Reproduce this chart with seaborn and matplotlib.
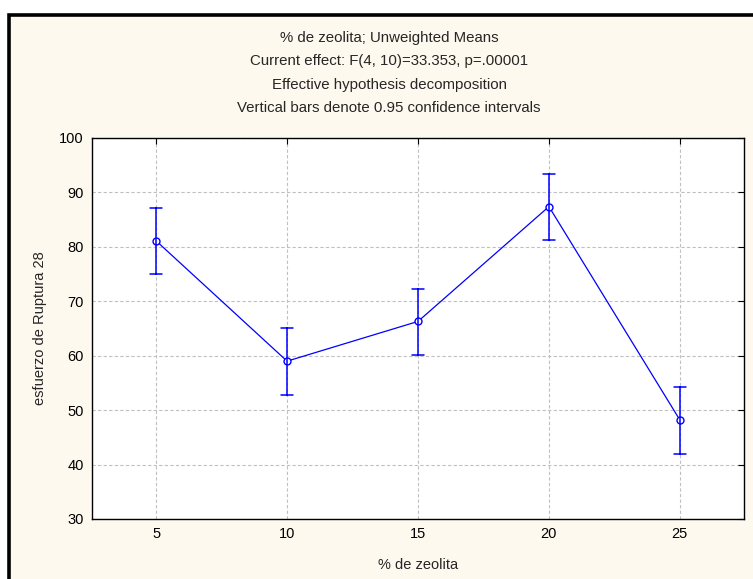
import numpy as np
import pandas as pd
import matplotlib
matplotlib.use("Agg")
import matplotlib.pyplot as plt
from matplotlib.patches import Rectangle
import seaborn as sns

# Zeolite content levels and unweighted means with 0.95 confidence limits
zeolita = ["5", "10", "15", "20", "25"]
medias = [81.1, 59.0, 66.3, 87.4, 48.2]
ci_inf = [75.0, 52.8, 60.2, 81.3, 42.0]
ci_sup = [87.1, 65.1, 72.3, 93.4, 54.3]

titulo = ["% de zeolita; Unweighted Means",
          "Current effect: F(4, 10)=33.353, p=.00001",
          "Effective hypothesis decomposition",
          "Vertical bars denote 0.95 confidence intervals"]

# Long table: lower limit, mean and upper limit per level; the median gives
# the mean and the min/max span gives the interval.
df = pd.DataFrame({
    "zeolita": np.repeat(zeolita, 3),
    "valor": np.ravel(np.column_stack([ci_inf, medias, ci_sup])),
})

sns.set_style("white")
plt.rcParams["font.family"] = ["Liberation Sans", "DejaVu Sans"]

bg = "#FEF9EE"
fig = plt.figure(figsize=(7.53, 5.79), dpi=100, facecolor="white")

# framed background panel
bgax = fig.add_axes([0, 0, 1, 1], zorder=-5)
bgax.set_xlim(0, 753)
bgax.set_ylim(579, 0)
bgax.axis("off")
bgax.add_patch(Rectangle((9.5, 14.5), 800, 700, facecolor=bg,
                         edgecolor="black", linewidth=2.6))

ax = fig.add_axes([92 / 753, 60 / 579, 652 / 753, 381 / 579])
ax.set_facecolor("white")

sns.pointplot(data=df, x="zeolita", y="valor", order=zeolita,
              estimator="median", errorbar=lambda v: (v.min(), v.max()),
              color="#0000FF", markers="o", linestyles="-", capsize=0.09,
              err_kws={"linewidth": 1.1}, linewidth=0.9,
              markersize=5, markerfacecolor="white", markeredgewidth=1.0,
              ax=ax)

ax.set_xlim(-0.49, 4.49)
ax.set_ylim(30, 100)
ax.set_yticks(np.arange(30, 101, 10))
ax.grid(True, color="#C0C0C0", linestyle=(0, (3, 2)), linewidth=0.8)
ax.set_axisbelow(True)
for s in ax.spines.values():
    s.set_color("black")
    s.set_linewidth(1.0)
    s.set_visible(True)
ax.tick_params(direction="in", length=4, width=0.8, top=True, right=True,
               labelsize=10.5, colors="black", pad=6)
ax.set_xlabel("% de zeolita", fontsize=10.5, labelpad=12)
ax.set_ylabel("esfuerzo de Ruptura 28", fontsize=10.5, labelpad=9)

for i, line in enumerate(titulo):
    fig.text(389 / 753, 1 - (38 + 23.5 * i) / 579, line,
             ha="center", va="center", fontsize=10.8)

fig.savefig("out.png", dpi=100, facecolor="white")
